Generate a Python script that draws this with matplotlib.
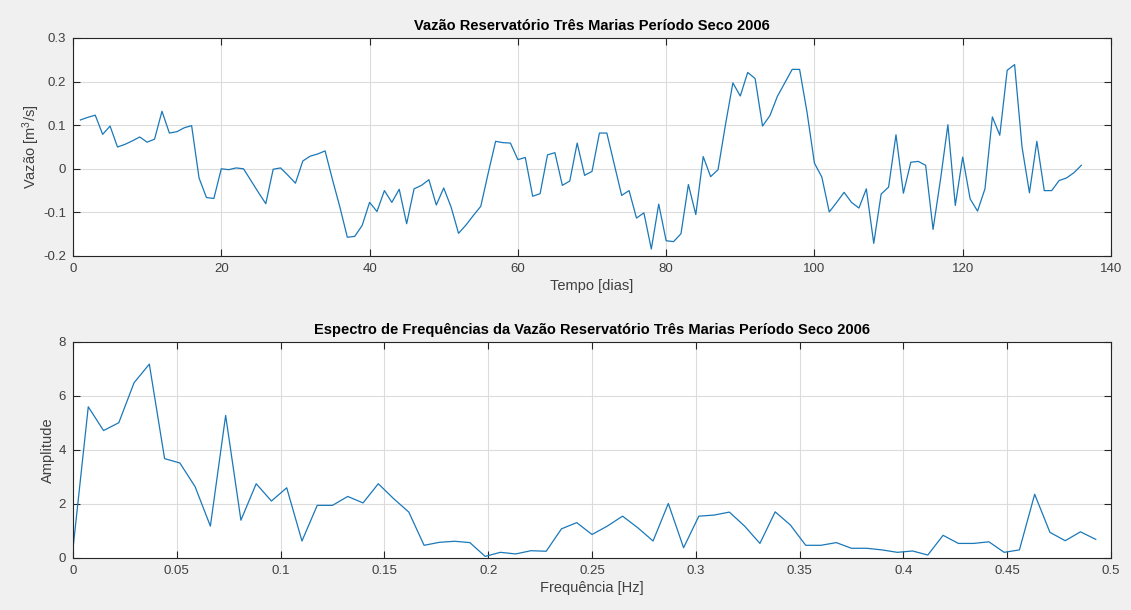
import numpy as np
import matplotlib
matplotlib.use("Agg")
import matplotlib.pyplot as plt

plt.rcParams['font.family'] = ['Liberation Sans', 'DejaVu Sans']
plt.rcParams['mathtext.fontset'] = 'custom'
plt.rcParams['mathtext.rm'] = 'Liberation Sans'
plt.rcParams['mathtext.it'] = 'Liberation Sans:italic'

# Daily flow anomaly (m^3/s), days 1..136
vazao = [
    0.112, 0.118, 0.123, 0.079, 0.098, 0.050, 0.056, 0.064, 0.073, 0.061,
    0.068, 0.132, 0.082, 0.085, 0.094, 0.099, -0.021, -0.066, -0.068, 0.000,
    -0.002, 0.002, 0.000, -0.027, -0.054, -0.080, -0.001, 0.002, -0.015, -0.033,
    0.018, 0.029, 0.034, 0.041, -0.025, -0.088, -0.157, -0.155, -0.130, -0.077,
    -0.098, -0.050, -0.077, -0.047, -0.126, -0.046, -0.038, -0.025, -0.083, -0.044,
    -0.088, -0.148, -0.129, -0.107, -0.086, -0.010, 0.063, 0.060, 0.059, 0.021,
    0.026, -0.063, -0.057, 0.032, 0.037, -0.038, -0.028, 0.059, -0.015, -0.006,
    0.082, 0.082, 0.011, -0.061, -0.050, -0.113, -0.101, -0.184, -0.081, -0.165,
    -0.167, -0.149, -0.036, -0.105, 0.028, -0.018, -0.002, 0.101, 0.197, 0.167,
    0.221, 0.207, 0.098, 0.122, 0.166, 0.197, 0.228, 0.228, 0.130, 0.013,
    -0.019, -0.099, -0.077, -0.054, -0.077, -0.090, -0.046, -0.171, -0.058, -0.042,
    0.078, -0.056, 0.015, 0.017, 0.008, -0.139, -0.025, 0.101, -0.084, 0.027,
    -0.069, -0.097, -0.046, 0.119, 0.077, 0.226, 0.239, 0.050, -0.055, 0.063,
    -0.050, -0.050, -0.027, -0.021, -0.009, 0.008,
]
dias = np.arange(1, len(vazao) + 1)

# One-sided amplitude spectrum, bins k/136 for k = 0..67
amplitude = [
    0.35, 5.60, 4.72, 5.01, 6.49, 7.18, 3.68, 3.52, 2.64, 1.18,
    5.28, 1.40, 2.75, 2.11, 2.60, 0.63, 1.95, 1.95, 2.28, 2.04,
    2.75, 2.20, 1.70, 0.47, 0.58, 0.62, 0.57, 0.06, 0.21, 0.15,
    0.27, 0.25, 1.08, 1.31, 0.87, 1.18, 1.55, 1.12, 0.63, 2.02,
    0.38, 1.55, 1.59, 1.70, 1.18, 0.54, 1.71, 1.22, 0.47, 0.47,
    0.57, 0.36, 0.36, 0.30, 0.21, 0.26, 0.11, 0.84, 0.54, 0.54,
    0.60, 0.21, 0.30, 2.36, 0.95, 0.64, 0.97, 0.69,
]
freq = np.arange(len(amplitude)) / len(vazao)

LINE = '#1a78b8'
AX = '#262626'
TICK = '#404040'
GRID = '#dcdcdc'

fig = plt.figure(figsize=(11.31, 6.10), dpi=100, facecolor='#f0f0f0')
W, H = 1131, 610


def add_axes(left, top, right, bottom):
    return fig.add_axes([left / W, 1 - bottom / H, (right - left) / W, (bottom - top) / H])


def style(ax):
    ax.set_facecolor('white')
    ax.grid(True, color=GRID, linewidth=0.8)
    ax.set_axisbelow(True)
    for s in ax.spines.values():
        s.set_color(AX)
        s.set_linewidth(0.8)
    ax.tick_params(direction='in', length=5, width=0.8, color=AX,
                   top=True, right=True, labelsize=9.5, labelcolor=TICK, pad=5)


ax1 = add_axes(73, 38, 1111, 256)
ax1.plot(dias, vazao, color=LINE, linewidth=0.9)
ax1.set_xlim(0, 140)
ax1.set_ylim(-0.2, 0.3)
ax1.set_xticks(np.arange(0, 141, 20))
ax1.set_yticks([-0.2, -0.1, 0, 0.1, 0.2, 0.3])
ax1.set_yticklabels(['-0.2', '-0.1', '0', '0.1', '0.2', '0.3'])
style(ax1)
ax1.set_title('Vazão Reservatório Três Marias Período Seco 2006',
              fontsize=10.5, fontweight='bold', color='black', pad=6)
ax1.set_xlabel('Tempo [dias]', fontsize=10.5, color=TICK, labelpad=3)
ax1.set_ylabel('Vazão [m$^3$/s]', fontsize=10.5, color=TICK, labelpad=1)

ax2 = add_axes(73, 342, 1111, 558)
ax2.plot(freq, amplitude, color=LINE, linewidth=0.9)
ax2.set_xlim(0, 0.5)
ax2.set_ylim(0, 8)
ax2.set_xticks(np.arange(0, 0.501, 0.05))
ax2.set_xticklabels(['0', '0.05', '0.1', '0.15', '0.2', '0.25', '0.3',
                     '0.35', '0.4', '0.45', '0.5'])
ax2.set_yticks([0, 2, 4, 6, 8])
style(ax2)
ax2.set_title('Espectro de Frequências da Vazão Reservatório Três Marias Período Seco 2006',
              fontsize=10.5, fontweight='bold', color='black', pad=6)
ax2.set_xlabel('Frequência [Hz]', fontsize=10.5, color=TICK, labelpad=3)
ax2.set_ylabel('Amplitude', fontsize=10.5, color=TICK, labelpad=3)

fig.savefig('out.png', dpi=100, facecolor=fig.get_facecolor())
